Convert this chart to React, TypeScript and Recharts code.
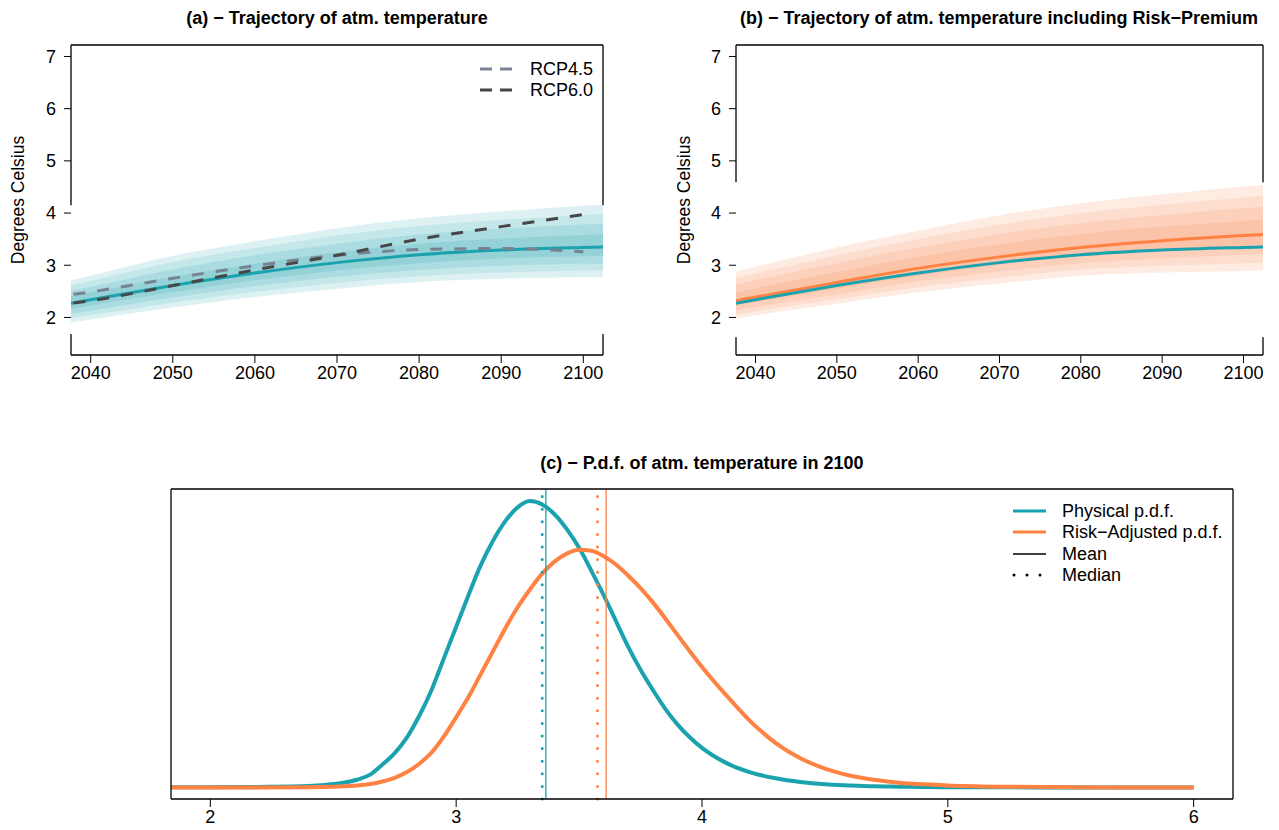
import { ComposedChart, LineChart, Line, Area, XAxis, YAxis, ReferenceLine } from 'recharts'

const FONT = "'Liberation Sans', Arial, Helvetica, sans-serif"
const TEAL = '#1AA3AE'
const ORANGE = '#FF8243'
const TEAL_BANDS = ['#DDF1F3', '#C4E7EA', '#ABDCE1', '#94D2D8']
const ORANGE_BANDS = ['#FEEBE1', '#FDDDCD', '#FCD0BA', '#FBC4A9']

// trajectories (panels a, b)
const years = [2035, 2040, 2050, 2060, 2070, 2080, 2090, 2100, 2105]
const physMedian = [2.2, 2.34, 2.61, 2.85, 3.05, 3.2, 3.29, 3.34, 3.36]
const physHi4 = [2.62, 2.8, 3.18, 3.46, 3.71, 3.9, 4.03, 4.14, 4.18]
const physLo4 = [1.84, 1.96, 2.19, 2.39, 2.55, 2.68, 2.74, 2.77, 2.78]
const physHi3 = [2.53, 2.7, 3.06, 3.33, 3.57, 3.75, 3.87, 3.96, 4.0]
const physLo3 = [1.92, 2.04, 2.28, 2.49, 2.66, 2.79, 2.86, 2.9, 2.91]
const physHi2 = [2.43, 2.59, 2.92, 3.19, 3.41, 3.59, 3.7, 3.78, 3.81]
const physLo2 = [2.0, 2.13, 2.38, 2.6, 2.78, 2.91, 2.99, 3.03, 3.04]
const physHi1 = [2.33, 2.48, 2.78, 3.03, 3.25, 3.41, 3.51, 3.58, 3.61]
const physLo1 = [2.09, 2.23, 2.48, 2.71, 2.9, 3.04, 3.13, 3.17, 3.19]

const riskMedian = [2.24, 2.39, 2.67, 2.94, 3.16, 3.34, 3.47, 3.57, 3.61]
const riskHi4 = [2.78, 2.97, 3.34, 3.66, 3.96, 4.19, 4.36, 4.51, 4.57]
const riskLo4 = [1.91, 2.04, 2.26, 2.48, 2.65, 2.8, 2.86, 2.89, 2.91]
const riskHi3 = [2.66, 2.84, 3.19, 3.5, 3.78, 4.0, 4.16, 4.3, 4.36]
const riskLo3 = [1.98, 2.12, 2.35, 2.58, 2.76, 2.92, 2.99, 3.04, 3.06]
const riskHi2 = [2.54, 2.71, 3.04, 3.34, 3.6, 3.81, 3.96, 4.09, 4.14]
const riskLo2 = [2.06, 2.2, 2.44, 2.69, 2.88, 3.04, 3.13, 3.2, 3.23]
const riskHi1 = [2.4, 2.56, 2.87, 3.16, 3.4, 3.6, 3.74, 3.85, 3.9]
const riskLo1 = [2.14, 2.29, 2.55, 2.8, 3.01, 3.18, 3.29, 3.37, 3.4]

const rcp45 = [2.38, 2.49, 2.75, 2.99, 3.19, 3.3, 3.32, 3.26, null]
const rcp60 = [2.22, 2.32, 2.61, 2.91, 3.19, 3.5, 3.74, 3.97, null]

const yearTicks = [2040, 2050, 2060, 2070, 2080, 2090, 2100]
const tempTicks = [2, 3, 4, 5, 6, 7]

// p.d.f. in 2100 (panel c), scaled so the physical peak is ~1
const pdfX = [1.84, 2.0, 2.2, 2.4, 2.5, 2.6, 2.65, 2.7, 2.75, 2.8, 2.85, 2.9, 2.95, 3.0, 3.05, 3.1, 3.15, 3.2, 3.25, 3.3, 3.35, 3.4, 3.45, 3.5, 3.55, 3.6, 3.65, 3.7, 3.75, 3.8, 3.85, 3.9, 3.95, 4.0, 4.1, 4.2, 4.3, 4.4, 4.5, 4.6, 4.7, 4.8, 4.9, 5.0, 5.2, 5.5, 6.0]
const pdfPhysical = [0.001, 0.001, 0.002, 0.005, 0.012, 0.028, 0.045, 0.08, 0.12, 0.175, 0.25, 0.34, 0.45, 0.56, 0.67, 0.775, 0.86, 0.928, 0.976, 0.998, 0.986, 0.952, 0.9, 0.835, 0.755, 0.67, 0.58, 0.49, 0.41, 0.34, 0.275, 0.22, 0.175, 0.138, 0.085, 0.052, 0.032, 0.019, 0.011, 0.007, 0.004, 0.003, 0.002, 0.001, 0.001, 0, 0]
const pdfRisk = [0, 0, 0, 0.001, 0.003, 0.007, 0.012, 0.021, 0.034, 0.054, 0.083, 0.122, 0.178, 0.245, 0.315, 0.395, 0.475, 0.555, 0.628, 0.69, 0.745, 0.787, 0.815, 0.828, 0.825, 0.806, 0.777, 0.738, 0.695, 0.645, 0.59, 0.532, 0.475, 0.42, 0.32, 0.228, 0.155, 0.102, 0.066, 0.042, 0.027, 0.017, 0.011, 0.007, 0.003, 0.001, 0]
const pdfTicks = [2, 3, 4, 5, 6]
const physMean = 3.365
const physMedian2100 = 3.35
const riskMean = 3.61
const riskMedian2100 = 3.575

const trajRows = years.map((year, i) => ({
  year,
  pMed: physMedian[i],
  p4: [physLo4[i], physHi4[i]],
  p3: [physLo3[i], physHi3[i]],
  p2: [physLo2[i], physHi2[i]],
  p1: [physLo1[i], physHi1[i]],
  rMed: riskMedian[i],
  r4: [riskLo4[i], riskHi4[i]],
  r3: [riskLo3[i], riskHi3[i]],
  r2: [riskLo2[i], riskHi2[i]],
  r1: [riskLo1[i], riskHi1[i]],
  rcp45: rcp45[i],
  rcp60: rcp60[i],
}))

const pdfRows = pdfX.map((x, i) => ({ x, phys: pdfPhysical[i], risk: pdfRisk[i] }))

const XD: [number, number] = [2037.6, 2102.4]
const YD: [number, number] = [1.28, 7.22]
const tickStyle = { fill: '#000', fontSize: 18, fontFamily: FONT }

function box(x0: number, x1: number, y0: number, y1: number, gap?: [number, number]) {
  const s = { stroke: '#000', strokeWidth: 1.3 }
  const segs: { x: number; y: number }[][] = [
    [{ x: x0, y: y1 }, { x: x1, y: y1 }],
    [{ x: x0, y: y0 }, { x: x1, y: y0 }],
  ]
  if (gap) {
    segs.push([{ x: x0, y: gap[1] }, { x: x0, y: y1 }], [{ x: x0, y: y0 }, { x: x0, y: gap[0] }])
    segs.push([{ x: x1, y: gap[1] }, { x: x1, y: y1 }], [{ x: x1, y: y0 }, { x: x1, y: gap[0] }])
  } else {
    segs.push([{ x: x0, y: y0 }, { x: x0, y: y1 }], [{ x: x1, y: y0 }, { x: x1, y: y1 }])
  }
  return segs.map((seg, i) => <ReferenceLine key={'b' + i} segment={seg} {...s} />)
}

function Trajectory({ risk }: { risk: boolean }) {
  const colors = risk ? ORANGE_BANDS : TEAL_BANDS
  const pre = risk ? 'r' : 'p'
  return (
    <ComposedChart
      width={risk ? 639 : 640}
      height={400}
      data={trajRows}
      margin={{ top: 45, right: risk ? 16 : 37, bottom: 0, left: 0 }}
    >
      <XAxis
        dataKey="year"
        type="number"
        domain={XD}
        allowDataOverflow
        ticks={yearTicks}
        axisLine={false}
        tickSize={8}
        tickMargin={3}
        tickLine={{ stroke: '#000' }}
        tick={tickStyle}
        height={45}
      />
      <YAxis
        type="number"
        domain={YD}
        allowDataOverflow
        ticks={tempTicks}
        axisLine={false}
        tickSize={7}
        tickMargin={8}
        tickLine={{ stroke: '#000' }}
        tick={tickStyle}
        width={risk ? 96 : 71}
      />
      {[4, 3, 2, 1].map((k, i) => (
        <Area
          key={k}
          type="monotone"
          dataKey={pre + k}
          stroke="none"
          fill={colors[i]}
          fillOpacity={1}
          dot={false}
          activeDot={false}
          isAnimationActive={false}
        />
      ))}
      {risk && (
        <Line type="monotone" dataKey="rMed" stroke={ORANGE} strokeWidth={3} dot={false} isAnimationActive={false} />
      )}
      <Line type="monotone" dataKey="pMed" stroke={TEAL} strokeWidth={3} dot={false} isAnimationActive={false} />
      {!risk && (
        <Line type="monotone" dataKey="rcp45" stroke="#778392" strokeWidth={3} strokeDasharray="12 12" dot={false} isAnimationActive={false} />
      )}
      {!risk && (
        <Line type="monotone" dataKey="rcp60" stroke="#474747" strokeWidth={3} strokeDasharray="12 12" dot={false} isAnimationActive={false} />
      )}
      {box(XD[0], XD[1], YD[0], YD[1], risk ? [1.62, 4.59] : [1.68, 4.15])}
    </ComposedChart>
  )
}

function PdfChart() {
  const d: [number, number] = [1.84, 6.16]
  const yd: [number, number] = [-0.04, 1.04]
  return (
    <LineChart width={1279} height={390} data={pdfRows} margin={{ top: 49, right: 46, bottom: 0, left: 171 }}>
      <XAxis
        dataKey="x"
        type="number"
        domain={d}
        allowDataOverflow
        ticks={pdfTicks}
        axisLine={false}
        tickSize={8}
        tickMargin={3}
        tickLine={{ stroke: '#000' }}
        tick={tickStyle}
        height={31}
      />
      <YAxis hide type="number" domain={yd} allowDataOverflow />
      <Line type="monotone" dataKey="phys" stroke={TEAL} strokeWidth={4} dot={false} isAnimationActive={false} />
      <Line type="monotone" dataKey="risk" stroke={ORANGE} strokeWidth={4} dot={false} isAnimationActive={false} />
      <ReferenceLine x={physMedian2100} stroke={TEAL} strokeWidth={3} strokeDasharray="0 12.6" strokeLinecap="round" />
      <ReferenceLine x={physMean} stroke={TEAL} strokeWidth={1.3} />
      <ReferenceLine x={riskMedian2100} stroke={ORANGE} strokeWidth={3} strokeDasharray="0 12.6" strokeLinecap="round" />
      <ReferenceLine x={riskMean} stroke={ORANGE} strokeWidth={1.3} />
      {box(d[0], d[1], yd[0], yd[1])}
    </LineChart>
  )
}

export default function App() {
  const txt = { fontFamily: FONT, fill: '#000' }
  return (
    <div style={{ position: 'absolute', left: 0, top: 0, width: 1279, height: 830, background: '#fff' }}>
      <div style={{ position: 'absolute', left: 0, top: 0 }}>
        <Trajectory risk={false} />
      </div>
      <div style={{ position: 'absolute', left: 640, top: 0 }}>
        <Trajectory risk />
      </div>
      <div style={{ position: 'absolute', left: 0, top: 440 }}>
        <PdfChart />
      </div>
      <svg width={1279} height={830} style={{ position: 'absolute', left: 0, top: 0, pointerEvents: 'none' }}>
        <g {...txt} fontWeight="bold" fontSize={18} textAnchor="middle">
          <text x={337} y={24}>(a) − Trajectory of atm. temperature</text>
          <text x={999} y={24}>(b) − Trajectory of atm. temperature including Risk−Premium</text>
          <text x={702} y={469}>(c) − P.d.f. of atm. temperature in 2100</text>
        </g>
        <g {...txt} fontSize={17.5} textAnchor="middle">
          <text transform="translate(24,200) rotate(-90)">Degrees Celsius</text>
          <text transform="translate(690,200) rotate(-90)">Degrees Celsius</text>
        </g>
        <g {...txt} fontSize={18}>
          <line x1={480} x2={512} y1={69} y2={69} stroke="#778392" strokeWidth={3} strokeDasharray="12 8" />
          <line x1={480} x2={512} y1={90} y2={90} stroke="#474747" strokeWidth={3} strokeDasharray="12 8" />
          <text x={530} y={75}>RCP4.5</text>
          <text x={530} y={96}>RCP6.0</text>
          <line x1={1013} x2={1046} y1={511} y2={511} stroke={TEAL} strokeWidth={3} />
          <line x1={1013} x2={1046} y1={532} y2={532} stroke={ORANGE} strokeWidth={3} />
          <line x1={1013} x2={1046} y1={554} y2={554} stroke="#000" strokeWidth={1.3} />
          <line x1={1014} x2={1044} y1={575} y2={575} stroke="#000" strokeWidth={3} strokeDasharray="0 13" strokeLinecap="round" />
          <text x={1062} y={517}>Physical p.d.f.</text>
          <text x={1062} y={538}>Risk−Adjusted p.d.f.</text>
          <text x={1062} y={560}>Mean</text>
          <text x={1062} y={581}>Median</text>
        </g>
      </svg>
    </div>
  )
}
